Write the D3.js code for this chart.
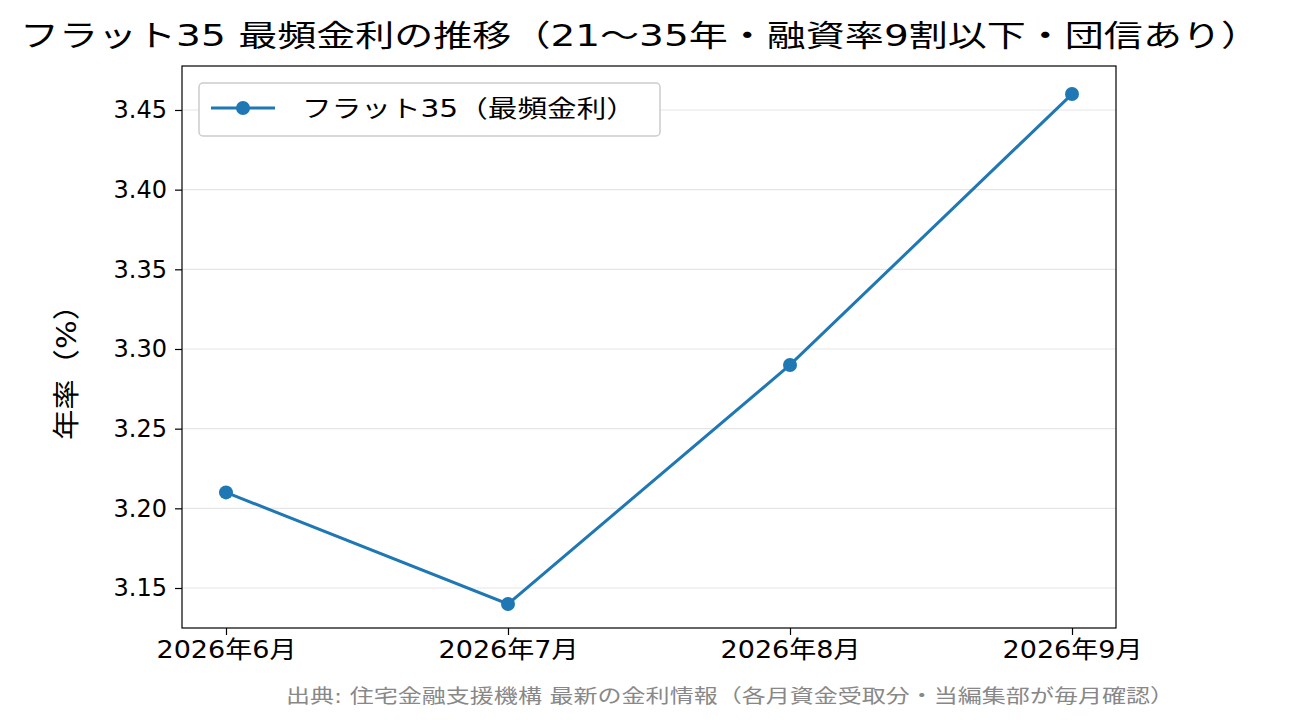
<!DOCTYPE html><html><head><meta charset="utf-8">
<script src="https://d3js.org/d3.v7.min.js"></script>
<style>body{margin:0;background:#fff}text{font-family:"DejaVu Sans","Noto Sans CJK JP",sans-serif}</style></head><body>
<svg id="c" width="1299" height="725"></svg>
<script>
const categories=["2026年6月","2026年7月","2026年8月","2026年9月"];
const values=[3.21,3.14,3.29,3.46];
const yTicks=[3.15,3.20,3.25,3.30,3.35,3.40,3.45];
const svg=d3.select("#c");
const L=182,R=1116,T=66,B=628;
const x=d3.scaleLinear().domain([-0.156,3.156]).range([L,R]);
const y=d3.scaleLinear().domain([3.1249,3.4776]).range([B,T]);
svg.append("g").selectAll("line").data(yTicks).join("line")
 .attr("x1",L).attr("x2",R).attr("y1",d=>y(d)).attr("y2",d=>y(d)).attr("stroke","#e5e5e5").attr("stroke-width",1.2);
const ya=svg.append("g").attr("transform",`translate(${L},0)`).call(d3.axisLeft(y).tickValues(yTicks).tickFormat(d3.format(".2f")).tickSize(7).tickPadding(8));
const xa=svg.append("g").attr("transform",`translate(0,${B})`).call(d3.axisBottom(x).tickValues(d3.range(categories.length)).tickFormat(i=>categories[i]).tickSize(7).tickPadding(6));
[ya,xa].forEach(a=>{a.selectAll("text").attr("font-size",24).attr("fill","#000");a.select(".domain").remove();a.selectAll("line").attr("stroke","#000").attr("stroke-width",1.2);});
xa.selectAll("text").attr("textLength",140).attr("lengthAdjust","spacingAndGlyphs");
svg.append("rect").attr("x",L).attr("y",T).attr("width",R-L).attr("height",B-T).attr("fill","none").attr("stroke","#000").attr("stroke-width",1.2);
svg.append("path").datum(values).attr("d",d3.line().x((d,i)=>x(i)).y(d=>y(d))).attr("fill","none").attr("stroke","#1f77b4").attr("stroke-width",3);
svg.append("g").selectAll("circle").data(values).join("circle").attr("cx",(d,i)=>x(i)).attr("cy",d=>y(d)).attr("r",7).attr("fill","#1f77b4");
svg.append("text").attr("x",20).attr("y",46).attr("font-size",30).attr("textLength",1240).attr("lengthAdjust","spacingAndGlyphs").text("フラット35 最頻金利の推移（21〜35年・融資率9割以下・団信あり）");
svg.append("text").attr("transform","translate(76,365) rotate(-90)").attr("text-anchor","middle").attr("font-size",27).attr("textLength",150).attr("lengthAdjust","spacingAndGlyphs").text("年率（%）");
svg.append("text").attr("x",286).attr("y",703).attr("font-size",19).attr("fill","#888").attr("textLength",888).attr("lengthAdjust","spacingAndGlyphs").text("出典: 住宅金融支援機構 最新の金利情報（各月資金受取分・当編集部が毎月確認）");
const lg=svg.append("g");
lg.append("rect").attr("x",199).attr("y",83).attr("width",461).attr("height",53).attr("rx",4).attr("fill","#fff").attr("stroke","#ccc").attr("stroke-width",1.5);
lg.append("line").attr("x1",211).attr("x2",275).attr("y1",108).attr("y2",108).attr("stroke","#1f77b4").attr("stroke-width",3);
lg.append("circle").attr("cx",243).attr("cy",108).attr("r",7).attr("fill","#1f77b4");
lg.append("text").attr("x",302).attr("y",117).attr("font-size",24).attr("textLength",334).attr("lengthAdjust","spacingAndGlyphs").text("フラット35（最頻金利）");
</script></body></html>
